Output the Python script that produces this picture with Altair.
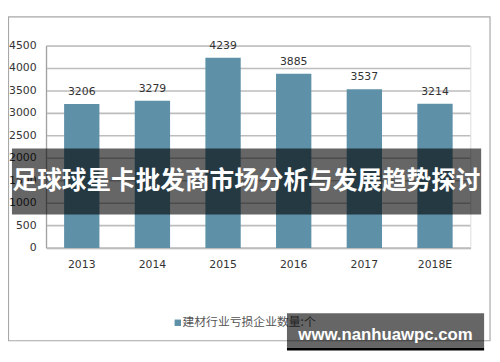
import altair as alt
import pandas as pd

years = ["2013", "2014", "2015", "2016", "2017", "2018E"]
values = [3206, 3279, 4239, 3885, 3537, 3214]
y_ticks = [0, 500, 1000, 1500, 2000, 2500, 3000, 3500, 4000, 4500]
series_name = "建材行业亏损企业数量:个"
banner_title = "足球球星卡批发商市场分析与发展趋势探讨"
watermark = "www.nanhuawpc.com"

BAR = "#5e90a7"
NUM_FONT = "DejaVu Sans"
CJK_FONT = "Noto Sans CJK SC"

df = pd.DataFrame({"year": years, "value": values})
ticks_df = pd.DataFrame({"tick": y_ticks})
one = pd.DataFrame({"k": [0]})

yscale = alt.Scale(domain=[0, 4500], nice=False)

x = alt.X("year:N", sort=years, title=None,
          scale=alt.Scale(paddingInner=0.5, paddingOuter=0.25),
          axis=alt.Axis(labelAngle=0, labelFont=NUM_FONT, labelFontSize=11,
                        labelColor="#333333", labelPadding=11, ticks=False,
                        domainColor="#b0b0b0", domainWidth=1.5, grid=False))
y = alt.Y("value:Q", title=None, scale=yscale, axis=None)
ytick = alt.Y("tick:Q", scale=yscale, axis=None)

grid = alt.Chart(ticks_df).mark_rect(color="#bdbdbd", height=1.6).encode(
    y=ytick, x=alt.value(0), x2=alt.value(430))

ylabels = alt.Chart(ticks_df).mark_text(font=NUM_FONT, fontSize=11, color="#333333",
                                        align="right", baseline="middle").encode(
    y=ytick, x=alt.value(-10), text=alt.Text("tick:Q", format="d"))

ydomain = alt.Chart(one).mark_rect(color="#a0a0a0").encode(
    x=alt.value(-0.6), x2=alt.value(0.6), y=alt.value(0), y2=alt.value(205))

border = alt.Chart(one).mark_rect(filled=False, stroke="#a8a8a8", strokeWidth=1.2).encode(
    x=alt.value(-38.5), x2=alt.value(450), y=alt.value(-29.5), y2=alt.value(299))

base = alt.Chart(df).encode(x=x, y=y)
bars = base.mark_bar(color=BAR)
labels = base.mark_text(font=NUM_FONT, fontSize=11, color="#333333",
                        baseline="middle", dy=-12).encode(text="value:Q")

banner = alt.Chart(one).mark_rect(color="black", opacity=0.6).encode(
    x=alt.value(-35), x2=alt.value(441), y=alt.value(104), y2=alt.value(171))

banner_text = alt.Chart(one).mark_text(font=CJK_FONT, fontWeight="bold", fontSize=25,
                                       color="white", align="center", baseline="middle").encode(
    x=alt.value(203), y=alt.value(137.5), text=alt.value(banner_title))

leg_sq = alt.Chart(one).mark_rect(color=BAR).encode(
    x=alt.value(130), x2=alt.value(136.5), y=alt.value(277.5), y2=alt.value(284))

leg_txt = alt.Chart(one).mark_text(font=CJK_FONT, fontSize=12, color="#555555",
                                   align="left", baseline="middle").encode(
    x=alt.value(138), y=alt.value(280.5), text=alt.value(series_name))

wm_rect = alt.Chart(one).mark_rect(color="black", opacity=0.6).encode(
    x=alt.value(244), x2=alt.value(444), y=alt.value(271), y2=alt.value(306))

wm_strip = alt.Chart(one).mark_rect(color="black").encode(
    x=alt.value(244), x2=alt.value(444), y=alt.value(306), y2=alt.value(309))

wm_text = alt.Chart(one).mark_text(font="Liberation Sans", fontWeight="bold", fontSize=17,
                                   color="white", align="center", baseline="alphabetic").encode(
    x=alt.value(344), y=alt.value(298), text=alt.value(watermark))

chart = alt.layer(grid, ylabels, ydomain, bars, labels, border, banner, banner_text,
                  leg_sq, leg_txt, wm_rect, wm_strip, wm_text).properties(
    width=430, height=205,
    autosize=alt.AutoSizeParams(type="none"),
    padding={"left": 39, "top": 36, "right": 22, "bottom": 113},
).configure_view(stroke=None).configure(background="white")

chart.save("out.html", embed_options={"renderer": "svg", "actions": False})
